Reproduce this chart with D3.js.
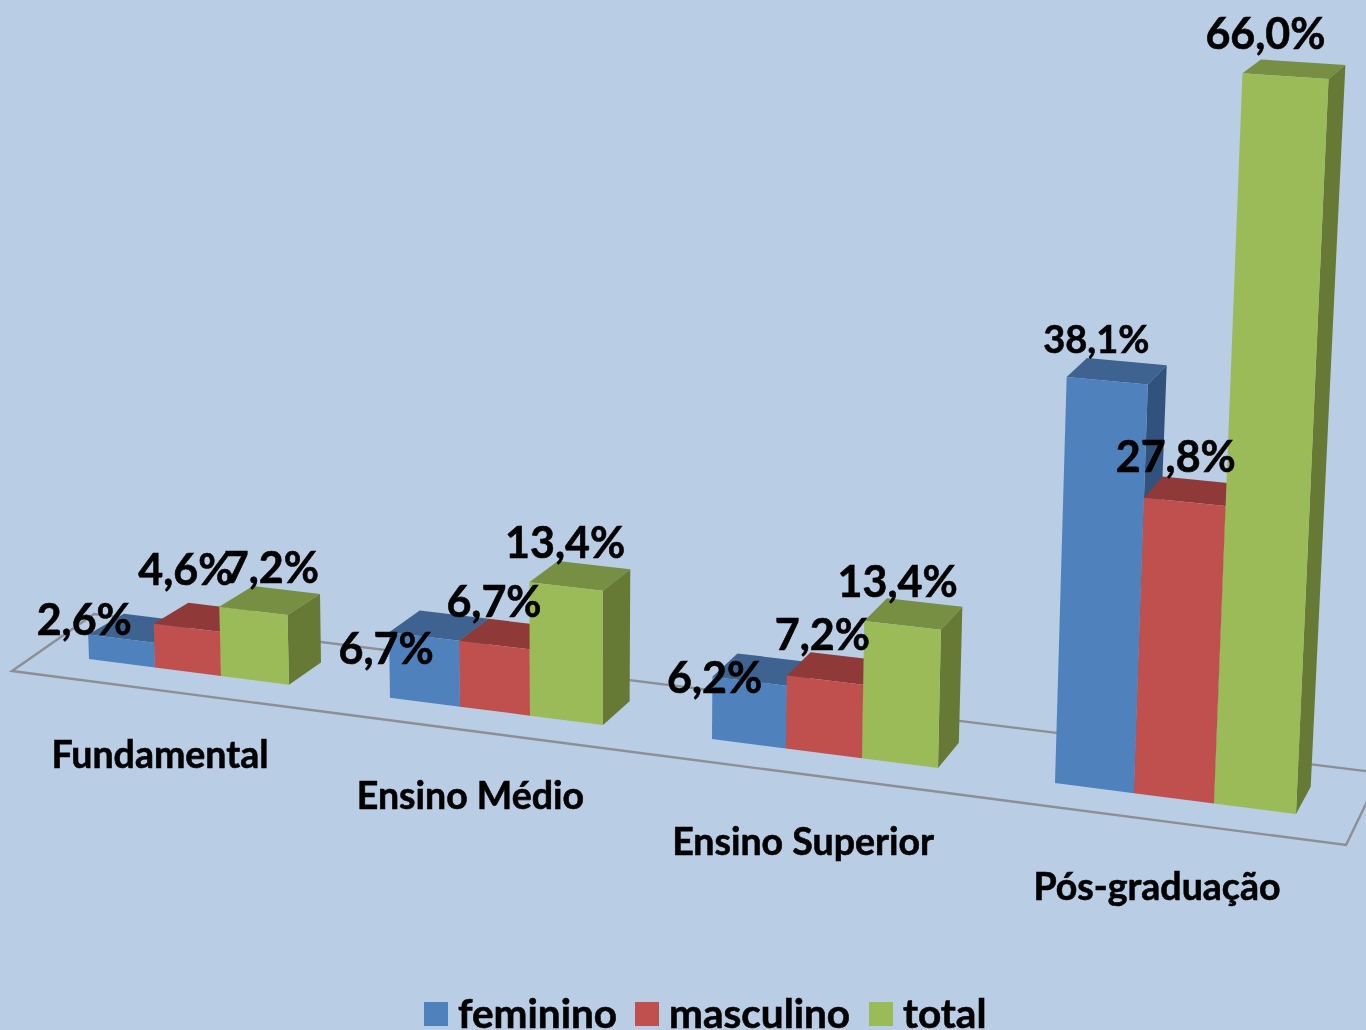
<!DOCTYPE html>
<html lang="pt"><head><meta charset="utf-8"><title>Gráfico</title>
<script src="https://cdnjs.cloudflare.com/ajax/libs/d3/7.8.5/d3.min.js"></script>
<style>html,body{margin:0;padding:0;background:#b9cde5;overflow:hidden}svg{display:block;filter:blur(0.5px)}text{font-family:Lato,sans-serif;font-weight:700;fill:#000;stroke:#000;stroke-width:.6px}</style>
</head><body><svg id="c" width="1366" height="1030"></svg>
<script>
const categories = ["Fundamental","Ensino Médio","Ensino Superior","Pós-graduação"];
const seriesNames = ["feminino","masculino","total"];
const feminino = [2.6,6.7,6.2,38.1];
const masculino = [4.6,6.7,7.2,27.8];
const total = [7.2,13.4,13.4,66.0];
const seriesValues = [feminino,masculino,total];

// layout (kept apart from the data)
const faceColors = [
  {front:"#4f81bd",top:"#3e6390",side:"#31527c"},
  {front:"#c0504d",top:"#8f3a38",side:"#7d3331"},
  {front:"#9bbb59",top:"#778f43",side:"#667a36"}];
const labelNudge = [
  [[-37,-4],[-38,27],[-35,11.5],[-11,-27.5]],
  [[-1,-43],[-0.5,-28.5],[-2.6,-30.5],[-9,-29.5]],
  [[18,-28],[-1,-29],[-5,-28],[-20,-27.5]]];
const floorCorners = [[12,671],[1346,845],[1381,773],[94,614]];
const catDrop = [74,75,78,77];

const svg = d3.select("#c");
const fmt = d3.formatLocale({decimal:",",thousands:".",grouping:[3],currency:["","" ]}).format(".1f");

// Ground position of each bar edge: 3 bar units per group, 1.5 units of gap, widening with perspective
const groupStep = 4.5;
const xGround = d3.scaleLinear()
  .domain([0,1,2,3, 4.5,5.5,6.5,7.5, 9,10,11,12, 13.5,14.5,15.5,16.5])
  .range([89,155,221,289, 390,460,530,603, 712,786,862,938, 1055,1134,1214,1296]);
const yGround = d3.scaleLinear().domain([89,1296]).range([659,814]);
const depthX = d3.scaleLinear().domain([289,1296]).range([32,14.7]);
const depthY = d3.scaleLinear().domain([289,1296]).range([-22.1,-27.2]);

function heightPx(gx,v){ return v*(9.35+0.0009*gx+0.0094*v); }
function front(gx,v){
  const h = heightPx(gx,v);
  return [gx+(gx-610)/15500*h, yGround(gx)-h];
}
function back(gx,v){
  const h = heightPx(gx,v), p = front(gx,v);
  return [p[0]+depthX(gx)*(1+0.0002*h), p[1]+depthY(gx)*(1-0.00066*h)];
}

const line = d3.line();
svg.append("path")
  .attr("d", line(floorCorners)+"Z")
  .attr("fill","none").attr("stroke","#8c8f94").attr("stroke-width",2.4);

const bars = [];
categories.forEach((cat,c)=>{
  seriesValues.forEach((vals,s)=>{
    const u0 = c*groupStep+s, v = vals[c];
    bars.push({c,s,v,x0:xGround(u0),x1:xGround(u0+1)});
  });
});

const g = svg.append("g").selectAll("g").data(bars).join("g");
g.append("path").attr("fill",d=>faceColors[d.s].top)
  .attr("d",d=>line([front(d.x0,d.v),front(d.x1,d.v),back(d.x1,d.v),back(d.x0,d.v)])+"Z");
g.append("path").attr("fill",d=>faceColors[d.s].side)
  .attr("d",d=>line([front(d.x1,d.v),back(d.x1,d.v),back(d.x1,0),front(d.x1,0)])+"Z");
g.append("path").attr("fill",d=>faceColors[d.s].front)
  .attr("d",d=>line([front(d.x0,0),front(d.x1,0),front(d.x1,d.v),front(d.x0,d.v)])+"Z");

svg.append("g").selectAll("text").data(bars).join("text")
  .attr("text-anchor","middle")
  .attr("font-size",d=>(d.c===3&&d.s===0)?38:43)
  .attr("x",d=>{const m=(d.x0+d.x1)/2;return front(m,d.v)[0]+labelNudge[d.s][d.c][0];})
  .attr("y",d=>{const m=(d.x0+d.x1)/2;return front(m,d.v)[1]+labelNudge[d.s][d.c][1];})
  .text(d=>fmt(d.v)+"%");

// category labels follow the front edge of the floor
const floorFront = d3.scaleLinear().domain([floorCorners[0][0],floorCorners[1][0]]).range([floorCorners[0][1],floorCorners[1][1]]);
const catShift = d3.scaleLinear().domain([189,1175]).range([-28,-17]);
svg.append("g").selectAll("text").data(categories).join("text")
  .attr("text-anchor","middle").attr("font-size",37.5)
  .attr("x",(d,i)=>{const m=xGround(i*groupStep+1.5);return m+catShift(m);})
  .attr("y",(d,i)=>floorFront(xGround(i*groupStep+1.5))+catDrop[i])
  .text(d=>d);

// legend
const legendX = [424,635,869];
const lg = svg.append("g").selectAll("g").data(seriesNames).join("g")
  .attr("transform",(d,i)=>`translate(${legendX[i]},1002)`);
lg.append("rect").attr("width",24).attr("height",24).attr("fill",(d,i)=>faceColors[i].front);
lg.append("text").attr("x",34).attr("y",26).attr("font-size",40.5).text(d=>d);
</script></body></html>
